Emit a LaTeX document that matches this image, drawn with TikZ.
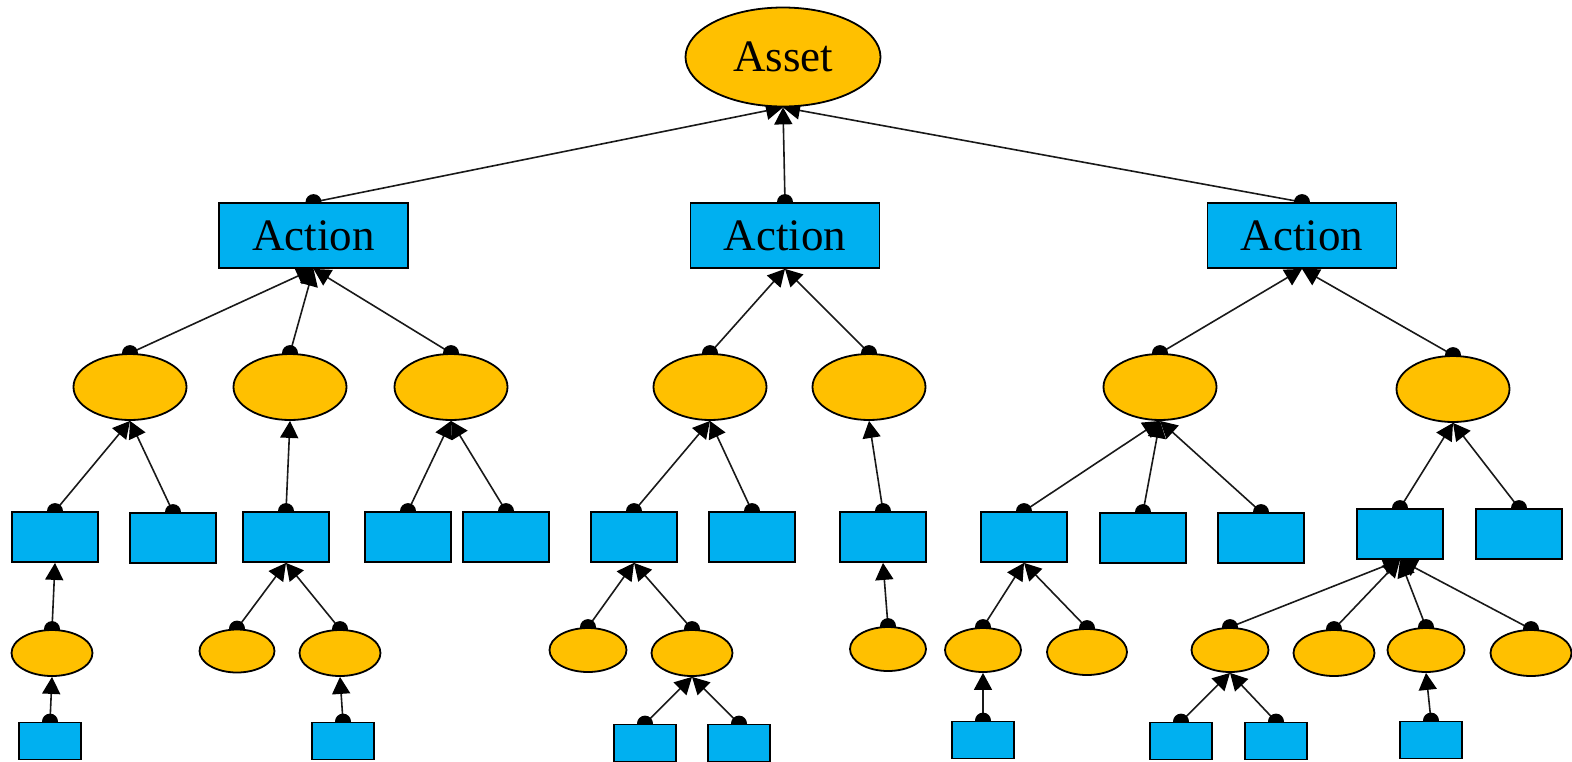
\documentclass[tikz,border=0pt]{standalone}
\usepackage{fontspec}
\setmainfont{Liberation Serif}
\usetikzlibrary{shapes.geometric,arrows.meta,backgrounds}
\definecolor{gold}{HTML}{FFC000}
\definecolor{sky}{HTML}{00B0F0}
\tikzset{
  oval/.style={ellipse,draw=black,line width=1.8pt,fill=gold,inner sep=0pt},
  box/.style={rectangle,draw=black,line width=1.8pt,fill=sky,inner sep=0pt},
  big/.style={font=\fontsize{45}{54}\selectfont},
  link/.style={line width=1.6pt,draw=black!90,-{Triangle[width=18pt,length=17pt,fill=black,color=black]}},
}
\newcommand{\lnk}[2]{\draw[link] (#1.north) -- (#2.south); \fill[black] (#1.north) circle (8pt);}
\begin{document}
\begin{tikzpicture}[x=1pt,y=-1pt]
\useasboundingbox (0,0) rectangle (1572,761);
% level 0
\node[oval,minimum width=195pt,minimum height=99pt,big] (asset) at (783,57) {Asset};
% level 1
\node[box,minimum width=189pt,minimum height=65pt,big] (aL) at (313.5,235.5) {Action};
\node[box,minimum width=189pt,minimum height=65pt,big] (aM) at (785,235.5) {Action};
\node[box,minimum width=189pt,minimum height=65pt,big] (aR) at (1302,235.5) {Action};
% level 2
\foreach \n/\x/\y in {o1/130/387,o2/290/387,o3/451/387,o4/710/387,o5/869/387,o6/1160/387,o7/1453/389}
  \node[oval,minimum width=113pt,minimum height=66pt] (\n) at (\x,\y) {};
% level 3
\foreach \n/\x/\y in {r1/55/537,r2/173/538,r3/286/537,r4/408/537,r5/506/537,r6/634/537,r7/752/537,r8/883/537,r9/1024/537,r10/1143/538,r11/1261/538,r12/1400/534,r13/1519/534}
  \node[box,minimum width=86pt,minimum height=50pt] (\n) at (\x,\y) {};
% level 4
\foreach \n/\x/\y/\w/\h in {e1/52/653/81/46,e2/237/651/75/43,e3/340/653/81/46,e4/588/650/77/44,e5/692/653/81/46,e6/888/649/76/44,e7/983/650/76/44,e8/1087/652/80/46,e9/1230/650/77/44,e10/1334/653/81/46,e11/1426/650/77/44,e12/1531/653/81/46}
  \node[oval,minimum width=\w pt,minimum height=\h pt] (\n) at (\x,\y) {};
% level 5
\foreach \n/\x/\y in {s1/50/741,s2/343/741,s3/645/743,s4/739/743,s5/983/740,s6/1181/741,s7/1276/741,s8/1431/740}
  \node[box,minimum width=62pt,minimum height=37pt] (\n) at (\x,\y) {};
\begin{scope}[on background layer]
\lnk{aL}{asset}\lnk{aM}{asset}\lnk{aR}{asset}
\lnk{o1}{aL}\lnk{o2}{aL}\lnk{o3}{aL}
\lnk{o4}{aM}\lnk{o5}{aM}
\lnk{o6}{aR}\lnk{o7}{aR}
\lnk{r1}{o1}\lnk{r2}{o1}
\lnk{r3}{o2}
\lnk{r4}{o3}\lnk{r5}{o3}
\lnk{r6}{o4}\lnk{r7}{o4}
\lnk{r8}{o5}
\lnk{r9}{o6}\lnk{r10}{o6}\lnk{r11}{o6}
\lnk{r12}{o7}\lnk{r13}{o7}
\lnk{e1}{r1}
\lnk{e2}{r3}\lnk{e3}{r3}
\lnk{e4}{r6}\lnk{e5}{r6}
\lnk{e6}{r8}
\lnk{e7}{r9}\lnk{e8}{r9}
\lnk{e9}{r12}\lnk{e10}{r12}\lnk{e11}{r12}\lnk{e12}{r12}
\lnk{s1}{e1}
\lnk{s2}{e3}
\lnk{s3}{e5}\lnk{s4}{e5}
\lnk{s5}{e7}
\lnk{s6}{e9}\lnk{s7}{e9}
\lnk{s8}{e11}
\end{scope}
\end{tikzpicture}
\end{document}
